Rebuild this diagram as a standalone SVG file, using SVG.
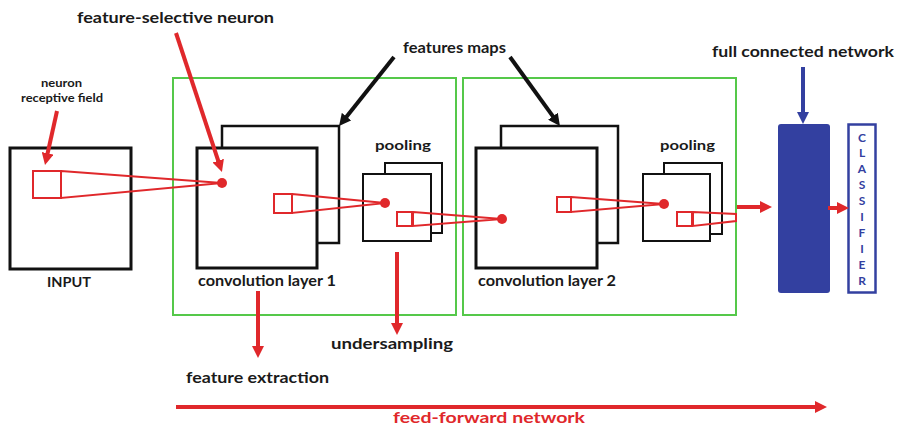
<svg xmlns="http://www.w3.org/2000/svg" width="897" height="428" viewBox="0 0 897 428">
<defs>
<style>
text{font-family:Lato,"Liberation Sans",sans-serif;font-weight:bold;fill:#1a1a1a}
.red{fill:#e0282b}
.cls{fill:#3340a0;font-size:12px;text-anchor:middle}
.grn{fill:none;stroke:#55c84a;stroke-width:2}
.box{fill:#fff;stroke:#111;stroke-width:3}
.back{fill:#fff;stroke:#111;stroke-width:2.5}
.pool{fill:#fff;stroke:#111;stroke-width:2}
.rf{fill:none;stroke:#e0282b;stroke-width:2}
.dot{fill:#e0282b}
.ra{stroke:#e0282b;stroke-width:4;fill:none;marker-end:url(#hr)}
.ka{stroke:#111;stroke-width:4;fill:none;marker-end:url(#hk)}
.ba{stroke:#3340a0;stroke-width:4;fill:none;marker-end:url(#hb)}
</style>
<marker id="hr" markerUnits="userSpaceOnUse" markerWidth="12" markerHeight="12" viewBox="0 0 12 12" refX="1" refY="6" orient="auto"><path d="M0,0 L12,6 L0,12 z" fill="#e0282b"/></marker>
<marker id="hk" markerUnits="userSpaceOnUse" markerWidth="12" markerHeight="12" viewBox="0 0 12 12" refX="1" refY="6" orient="auto"><path d="M0,0 L12,6 L0,12 z" fill="#111"/></marker>
<marker id="hb" markerUnits="userSpaceOnUse" markerWidth="12" markerHeight="12" viewBox="0 0 12 12" refX="1" refY="6" orient="auto"><path d="M0,0 L12,6 L0,12 z" fill="#3340a0"/></marker>
</defs>
<rect width="897" height="428" fill="#fff"/>

<g id="layer1-frame"><rect class="grn" x="173" y="78" width="283" height="237"/></g>
<g id="layer2-frame"><rect class="grn" x="463" y="78" width="273" height="237"/></g>

<g id="input">
<rect class="box" x="10" y="148" width="121" height="121"/>
<text x="47" y="287" font-size="14" textLength="44" lengthAdjust="spacingAndGlyphs">INPUT</text>
</g>

<g id="conv1">
<rect class="back" x="222" y="126" width="117" height="117"/>
<rect class="box" x="197" y="148" width="120" height="120"/>
<text x="198" y="286" font-size="15" textLength="138" lengthAdjust="spacingAndGlyphs">convolution layer 1</text>
</g>

<g id="pool1">
<rect class="pool" x="385" y="163" width="57" height="70"/>
<rect class="pool" x="363" y="174" width="68" height="67"/>
<text x="375" y="150" font-size="14" textLength="56" lengthAdjust="spacingAndGlyphs">pooling</text>
</g>

<g id="conv2">
<rect class="back" x="501" y="126" width="117" height="117"/>
<rect class="box" x="476" y="148" width="121" height="120"/>
<text x="478" y="286" font-size="15" textLength="138" lengthAdjust="spacingAndGlyphs">convolution layer 2</text>
</g>

<g id="pool2">
<rect class="pool" x="664" y="163" width="58" height="71"/>
<rect class="pool" x="643" y="174" width="67" height="67"/>
<text x="660" y="150" font-size="14" textLength="55" lengthAdjust="spacingAndGlyphs">pooling</text>
</g>

<g id="fc">
<rect x="778" y="124" width="52" height="169" rx="3" fill="#3340a0"/>
<text x="712" y="57" font-size="16" textLength="182" lengthAdjust="spacingAndGlyphs">full connected network</text>
</g>

<g id="classifier">
<rect x="848.5" y="124.5" width="27" height="168" fill="#fff" stroke="#3340a0" stroke-width="2.5"/>
<text class="cls" x="862" y="141.5">C</text>
<text class="cls" x="862" y="157.4">L</text>
<text class="cls" x="862" y="173.3">A</text>
<text class="cls" x="862" y="189.2">S</text>
<text class="cls" x="862" y="205.1">S</text>
<text class="cls" x="862" y="221">I</text>
<text class="cls" x="862" y="236.9">F</text>
<text class="cls" x="862" y="252.8">I</text>
<text class="cls" x="862" y="268.7">E</text>
<text class="cls" x="862" y="284.6">R</text>
</g>

<g id="labels">
<text x="77" y="23" font-size="16" textLength="197" lengthAdjust="spacingAndGlyphs">feature-selective neuron</text>
<text x="61.5" y="87" font-size="11" text-anchor="middle" textLength="41" lengthAdjust="spacingAndGlyphs">neuron</text>
<text x="62" y="102" font-size="11" text-anchor="middle" textLength="82" lengthAdjust="spacingAndGlyphs">receptive field</text>
<text x="403" y="53" font-size="15" textLength="103" lengthAdjust="spacingAndGlyphs">features maps</text>
<text x="186" y="383" font-size="16" textLength="143" lengthAdjust="spacingAndGlyphs">feature extraction</text>
<text x="331" y="349" font-size="16" textLength="122" lengthAdjust="spacingAndGlyphs">undersampling</text>
<text class="red" x="393" y="423" font-size="16" textLength="192" lengthAdjust="spacingAndGlyphs">feed-forward network</text>
</g>

<g id="connectors">
<rect class="rf" x="33" y="171" width="28" height="27"/>
<polygon class="rf" points="61,171 222,183 61,198"/>
<circle class="dot" cx="222" cy="183" r="5"/>
<rect class="rf" x="274" y="194" width="18" height="19"/>
<polygon class="rf" points="292,194 385,203 292,213"/>
<circle class="dot" cx="385" cy="203" r="5"/>
<rect class="rf" x="397" y="212" width="15" height="14"/>
<polygon class="rf" points="413,212 502,219 413,226"/>
<circle class="dot" cx="502" cy="219" r="5"/>
<rect class="rf" x="557" y="197" width="14" height="15"/>
<polygon class="rf" points="571,197 664,204 571,212"/>
<circle class="dot" cx="664" cy="204" r="5"/>
<rect class="rf" x="677" y="212" width="15" height="14"/>
<polygon class="rf" points="693,212 736,214 736,221 693,226"/>

<line class="ra" x1="176" y1="33" x2="218.5" y2="161.6"/>
<line class="ra" x1="57" y1="111" x2="47.4" y2="154.3"/>
<line class="ra" x1="258" y1="291" x2="258" y2="347"/>
<line class="ra" x1="397" y1="252" x2="397" y2="324"/>
<line class="ra" x1="737" y1="207" x2="761" y2="207"/>
<line class="ra" x1="828" y1="208" x2="838" y2="208"/>
<line class="ra" x1="176" y1="407" x2="816" y2="407" stroke-width="3"/>
<line class="ka" x1="394" y1="57" x2="345.9" y2="117.4"/>
<line class="ka" x1="510" y1="57" x2="553.5" y2="117.1"/>
<line class="ba" x1="803" y1="67" x2="803" y2="113"/>
</g>
</svg>
